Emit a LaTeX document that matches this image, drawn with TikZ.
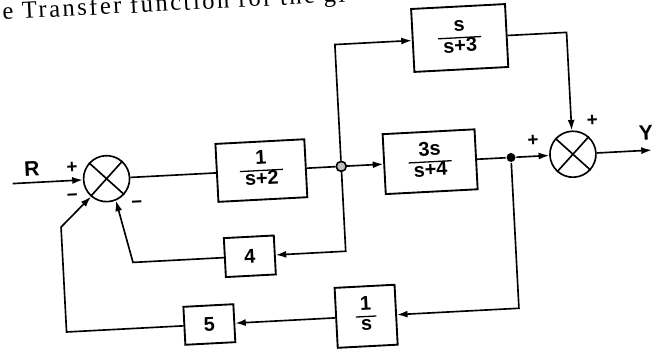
\documentclass[tikz,border=0pt]{standalone}
\usepackage{fontspec}
\setmainfont{Liberation Sans}
\newfontfamily\headfont[LetterSpace=10]{Liberation Serif}
\usetikzlibrary{arrows.meta}
\newcommand\blockfrac[2]{{\renewcommand\arraystretch{0.85}\setlength\arrayrulewidth{1.1pt}%
  \begin{tabular}{@{\hspace{4pt}}c@{\hspace{4pt}}}#1\\\hline #2\end{tabular}}}

\begin{document}
\begin{tikzpicture}[x=0.03cm, y=-0.03cm, line width=1.4pt,
  font=\bfseries\fontsize{17}{19}\selectfont,
  blk/.style={draw, line width=1.6pt, inner sep=0pt},
  sumj/.style={draw, circle, minimum size=1.38cm, inner sep=0pt},
  sgn/.style={font=\bfseries\fontsize{16}{16}\selectfont, inner sep=0pt},
  sig/.style={-{Latex[length=9pt,width=6pt]}}]
\useasboundingbox (0,0) rectangle (657,353);
\clip (0,0) rectangle (657,353);
\node[anchor=base west, rotate=3, inner sep=0pt,
  font=\headfont\fontsize{21}{23}\selectfont] (title) at (-22,21) {the Transfer function for the gi};

\begin{scope}[rotate around={3:(330,200)}, transform shape]
% summing points
\node[sumj] (sumA) at (108,167) {};
\node[sumj] (sumB) at (575,167) {};
\foreach \s in {sumA,sumB}
  \draw (\s.45) -- (\s.225) (\s.135) -- (\s.-45);
% blocks
\node[blk, minimum width=2.67cm, minimum height=1.74cm] (gA) at (263,167) {\blockfrac{1}{s+2}};
\node[blk, minimum width=2.82cm, minimum height=1.89cm] (gB) at (468,45) {\blockfrac{s}{s+3}};
\node[blk, minimum width=2.76cm, minimum height=1.8cm] (gC) at (432,167) {\blockfrac{3s}{s+4}};
\node[blk, minimum width=1.5cm, minimum height=1.17cm] (hA) at (247,252) {4};
\node[blk, minimum width=1.8cm, minimum height=1.8cm] (hB) at (360,318) {\blockfrac{1}{s}};
\node[blk, minimum width=1.5cm, minimum height=1.14cm] (hC) at (203,318) {5};
% take-off points
\node[circle, draw, fill=gray!50, minimum size=0.3cm, inner sep=0pt] (jA) at (343,167) {};
\node[circle, fill=black, minimum size=0.27cm, inner sep=0pt] (jB) at (513,167) {};
% corners and free ends
\coordinate (in) at (14,167);
\coordinate (out) at (654,167);
\coordinate (tA) at (343,45);
\coordinate (tB) at (575,45);
\coordinate (cA) at (343,252);
\coordinate (cB) at (130,252);
\coordinate (cC) at (513,318);
\coordinate (cD) at (60,318);
\coordinate (cE) at (60,213);
% forward path
\draw[sig] (in) -- (sumA);
\draw (sumA) -- (gA);
\draw (gA) -- (jA);
\draw[sig] (jA) -- (gC);
\draw (gC) -- (jB);
\draw[sig] (jB) -- (sumB);
\draw[sig] (sumB) -- (out);
\draw[sig] (jA) -- (tA) -- (gB);
\draw[sig] (gB.east |- tB) -- (tB) -- (sumB);
% feedback
\draw[sig] (jA) -- (cA) -- (hA);
\draw[sig] (hA) -- (cB) -- (sumA.-70);
\draw[sig] (jB) -- (cC) -- (hB);
\draw[sig] (hB) -- (hC);
\draw[sig] (hC) -- (cD) -- (cE) -- (sumA.-134);
% labels
\node[font=\bfseries\fontsize{18}{19}\selectfont] (R) at (34,153) {R};
\node[font=\bfseries\fontsize{18}{19}\selectfont] (Y) at (649,150) {Y};
\node[sgn] at (74,154) {+};
\node[sgn] at (73,184) {−};
\node[sgn] at (137,194) {−};
\node[sgn] at (536,151) {+};
\node[sgn] at (596,135) {+};
\end{scope}
\end{tikzpicture}
\end{document}
